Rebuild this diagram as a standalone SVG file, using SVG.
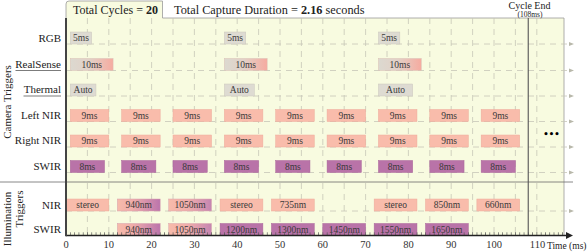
<svg xmlns="http://www.w3.org/2000/svg" width="588" height="252" viewBox="0 0 588 252">
<style>
.lbl{font-family:"Liberation Serif",serif;font-size:11px;fill:#222;text-anchor:end}
.bt{font-family:"Liberation Serif",serif;font-size:9.5px;fill:#3a3a3a;text-anchor:middle}
.ttl{font-family:"Liberation Serif",serif;font-size:12px;fill:#222}
.tick{font-family:"Liberation Serif",serif;font-size:10.5px;fill:#333;text-anchor:middle}
.grid{stroke:#c6c6b8;stroke-width:0.8;stroke-dasharray:6 5;fill:none}
.row{stroke:#c6c6b8;stroke-width:0.8;stroke-dasharray:6 5;fill:none}
.gray{fill:#dedbd2;stroke:#cbc7bd;stroke-width:0.5}
.sal{fill:#f9bcab;stroke:#eeaa9a;stroke-width:0.5}
.pur{fill:#b973a8;stroke:#a9659a;stroke-width:0.5}
.rs{fill:url(#gRS);stroke:#d9c0b5;stroke-width:0.5}
.g940{fill:url(#g940);stroke:#d59fae;stroke-width:0.5}
.g1050{fill:url(#g1050);stroke:#d9a5ae;stroke-width:0.5}
</style>
<defs>
<linearGradient id="gRS" x1="0" y1="0" x2="1" y2="0">
<stop offset="0" stop-color="#dcd9d0"/><stop offset="0.45" stop-color="#e2d1c7"/><stop offset="1" stop-color="#f6aba0"/>
</linearGradient>
<linearGradient id="g940" x1="0" y1="0" x2="1" y2="0">
<stop offset="0" stop-color="#f7bbaa"/><stop offset="0.35" stop-color="#f0adaa"/><stop offset="1" stop-color="#bb74ac"/>
</linearGradient>
<linearGradient id="g1050" x1="0" y1="0" x2="1" y2="0">
<stop offset="0" stop-color="#f7bbaa"/><stop offset="0.45" stop-color="#f0adaa"/><stop offset="1" stop-color="#c585b2"/>
</linearGradient>
<pattern id="ticks" patternUnits="userSpaceOnUse" x="65.65" y="0" width="4.28" height="252">
<rect x="0" y="0" width="0.7" height="252" fill="#555"/>
</pattern>
<marker id="sarr" markerUnits="userSpaceOnUse" markerWidth="6" markerHeight="5" refX="1" refY="2.5" orient="auto">
<path d="M0,0.5 L5,2.5 L0,4.5 z" fill="#b8b8aa"/>
</marker>
<marker id="axarr" markerUnits="userSpaceOnUse" markerWidth="8" markerHeight="7" refX="1" refY="3.5" orient="auto">
<path d="M0,0 L7,3.5 L0,7 z" fill="#222"/>
</marker>
</defs>

<g id="frame">
<rect x="66" y="18" width="498" height="217.5" fill="#f8fbe0"/>
<path d="M66,18 V4 Q66,1 69,1 H162.5 V18" fill="#f8fbe0" stroke="#9a9a9a" stroke-width="0.8"/>
<path d="M162.5,18 H564 V235.5" fill="none" stroke="#9a9a9a" stroke-width="0.8"/>
</g>

<g id="connectors">
<path class="grid" d="M87.4 18V235M108.8 18V235M130.2 18V235M151.6 18V235M173 18V235M194.4 18V235M215.8 18V235M237.2 18V235M258.6 18V235M280 18V235M301.4 18V235M322.8 18V235M344.2 18V235M365.6 18V235M387 18V235M408.4 18V235M429.8 18V235M451.2 18V235M472.6 18V235M494 18V235M515.4 18V235M536.8 18V235"/>
<line class="row" x1="66" y1="44" x2="570" y2="44" marker-end="url(#sarr)"/>
<line class="row" x1="66" y1="70.5" x2="570" y2="70.5" marker-end="url(#sarr)"/>
<line class="row" x1="66" y1="96" x2="570" y2="96" marker-end="url(#sarr)"/>
<line class="row" x1="66" y1="121.5" x2="570" y2="121.5" marker-end="url(#sarr)"/>
<line class="row" x1="66" y1="147" x2="570" y2="147" marker-end="url(#sarr)"/>
<line class="row" x1="66" y1="172.5" x2="570" y2="172.5" marker-end="url(#sarr)"/>
<line class="row" x1="66" y1="211" x2="570" y2="211" marker-end="url(#sarr)"/>
<line x1="0" y1="182" x2="573" y2="182" stroke="#6a6a6a" stroke-width="0.8"/>
<line x1="528.24" y1="18" x2="528.24" y2="235.5" stroke="#555" stroke-width="1.1"/>
</g>

<g id="rgb">
<g id="rgb-1"><rect class="gray" x="70.28" y="32" width="21.4" height="12"/><text class="bt" x="80.98" y="41.1">5ms</text></g>
<g id="rgb-2"><rect class="gray" x="224.36" y="32" width="21.4" height="12"/><text class="bt" x="235.06" y="41.1">5ms</text></g>
<g id="rgb-3"><rect class="gray" x="378.44" y="32" width="21.4" height="12"/><text class="bt" x="389.14" y="41.1">5ms</text></g>
</g>
<g id="realsense">
<g id="rs-1"><rect class="rs" x="70.28" y="58.5" width="42.8" height="12"/><text class="bt" x="91.68" y="67.6">10ms</text></g>
<g id="rs-2"><rect class="rs" x="224.36" y="58.5" width="42.8" height="12"/><text class="bt" x="245.76" y="67.6">10ms</text></g>
<g id="rs-3"><rect class="rs" x="378.44" y="58.5" width="42.8" height="12"/><text class="bt" x="399.84" y="67.6">10ms</text></g>
</g>
<g id="thermal">
<g id="th-1"><rect class="gray" x="70.28" y="84" width="25.68" height="12"/><text class="bt" x="83.12" y="93.1">Auto</text></g>
<g id="th-2"><rect class="gray" x="224.36" y="84" width="29.96" height="12"/><text class="bt" x="239.34" y="93.1">Auto</text></g>
<g id="th-3"><rect class="gray" x="378.44" y="84" width="34.24" height="12"/><text class="bt" x="395.56" y="93.1">Auto</text></g>
</g>
<g id="leftnir">
<g id="ln-1"><rect class="sal" x="70.28" y="109.5" width="38.52" height="12"/><text class="bt" x="89.54" y="118.6">9ms</text></g>
<g id="ln-2"><rect class="sal" x="121.64" y="109.5" width="38.52" height="12"/><text class="bt" x="140.9" y="118.6">9ms</text></g>
<g id="ln-3"><rect class="sal" x="173" y="109.5" width="38.52" height="12"/><text class="bt" x="192.26" y="118.6">9ms</text></g>
<g id="ln-4"><rect class="sal" x="224.36" y="109.5" width="38.52" height="12"/><text class="bt" x="243.62" y="118.6">9ms</text></g>
<g id="ln-5"><rect class="sal" x="275.72" y="109.5" width="38.52" height="12"/><text class="bt" x="294.98" y="118.6">9ms</text></g>
<g id="ln-6"><rect class="sal" x="327.08" y="109.5" width="38.52" height="12"/><text class="bt" x="346.34" y="118.6">9ms</text></g>
<g id="ln-7"><rect class="sal" x="378.44" y="109.5" width="38.52" height="12"/><text class="bt" x="397.7" y="118.6">9ms</text></g>
<g id="ln-8"><rect class="sal" x="429.8" y="109.5" width="38.52" height="12"/><text class="bt" x="449.06" y="118.6">9ms</text></g>
<g id="ln-9"><rect class="sal" x="481.16" y="109.5" width="38.52" height="12"/><text class="bt" x="500.42" y="118.6">9ms</text></g>
</g>
<g id="rightnir">
<g id="rn-1"><rect class="sal" x="70.28" y="135" width="38.52" height="12"/><text class="bt" x="89.54" y="144.1">9ms</text></g>
<g id="rn-2"><rect class="sal" x="121.64" y="135" width="38.52" height="12"/><text class="bt" x="140.9" y="144.1">9ms</text></g>
<g id="rn-3"><rect class="sal" x="173" y="135" width="38.52" height="12"/><text class="bt" x="192.26" y="144.1">9ms</text></g>
<g id="rn-4"><rect class="sal" x="224.36" y="135" width="38.52" height="12"/><text class="bt" x="243.62" y="144.1">9ms</text></g>
<g id="rn-5"><rect class="sal" x="275.72" y="135" width="38.52" height="12"/><text class="bt" x="294.98" y="144.1">9ms</text></g>
<g id="rn-6"><rect class="sal" x="327.08" y="135" width="38.52" height="12"/><text class="bt" x="346.34" y="144.1">9ms</text></g>
<g id="rn-7"><rect class="sal" x="378.44" y="135" width="38.52" height="12"/><text class="bt" x="397.7" y="144.1">9ms</text></g>
<g id="rn-8"><rect class="sal" x="429.8" y="135" width="38.52" height="12"/><text class="bt" x="449.06" y="144.1">9ms</text></g>
<g id="rn-9"><rect class="sal" x="481.16" y="135" width="38.52" height="12"/><text class="bt" x="500.42" y="144.1">9ms</text></g>
</g>
<g id="swir-cam">
<g id="sw-1"><rect class="pur" x="70.28" y="160.5" width="34.24" height="12"/><text class="bt" x="87.4" y="169.6">8ms</text></g>
<g id="sw-2"><rect class="pur" x="121.64" y="160.5" width="34.24" height="12"/><text class="bt" x="138.76" y="169.6">8ms</text></g>
<g id="sw-3"><rect class="pur" x="173" y="160.5" width="34.24" height="12"/><text class="bt" x="190.12" y="169.6">8ms</text></g>
<g id="sw-4"><rect class="pur" x="224.36" y="160.5" width="34.24" height="12"/><text class="bt" x="241.48" y="169.6">8ms</text></g>
<g id="sw-5"><rect class="pur" x="275.72" y="160.5" width="34.24" height="12"/><text class="bt" x="292.84" y="169.6">8ms</text></g>
<g id="sw-6"><rect class="pur" x="327.08" y="160.5" width="34.24" height="12"/><text class="bt" x="344.2" y="169.6">8ms</text></g>
<g id="sw-7"><rect class="pur" x="378.44" y="160.5" width="34.24" height="12"/><text class="bt" x="395.56" y="169.6">8ms</text></g>
<g id="sw-8"><rect class="pur" x="429.8" y="160.5" width="34.24" height="12"/><text class="bt" x="446.92" y="169.6">8ms</text></g>
<g id="sw-9"><rect class="pur" x="481.16" y="160.5" width="34.24" height="12"/><text class="bt" x="498.28" y="169.6">8ms</text></g>
</g>
<g id="nir-illum">
<g id="ni-1"><rect class="sal" x="66.5" y="199" width="42.3" height="12"/><text class="bt" x="87.65" y="208.1">stereo</text></g>
<g id="ni-2"><rect class="g940" x="117.36" y="199" width="42.8" height="12"/><text class="bt" x="138.76" y="208.1">940nm</text></g>
<g id="ni-3"><rect class="g1050" x="168.72" y="199" width="42.8" height="12"/><text class="bt" x="190.12" y="208.1">1050nm</text></g>
<g id="ni-4"><rect class="sal" x="220.08" y="199" width="42.8" height="12"/><text class="bt" x="241.48" y="208.1">stereo</text></g>
<g id="ni-5"><rect class="sal" x="271.44" y="199" width="42.8" height="12"/><text class="bt" x="292.84" y="208.1">735nm</text></g>
<g id="ni-6"><rect class="sal" x="374.16" y="199" width="42.8" height="12"/><text class="bt" x="395.56" y="208.1">stereo</text></g>
<g id="ni-7"><rect class="sal" x="425.52" y="199" width="42.8" height="12"/><text class="bt" x="446.92" y="208.1">850nm</text></g>
<g id="ni-8"><rect class="sal" x="476.88" y="199" width="42.8" height="12"/><text class="bt" x="498.28" y="208.1">660nm</text></g>
</g>
<g id="swir-illum">
<g id="si-1"><rect class="g940" x="117.36" y="223.5" width="42.8" height="12"/><text class="bt" x="138.76" y="232.6">940nm</text></g>
<g id="si-2"><rect class="g1050" x="168.72" y="223.5" width="42.8" height="12"/><text class="bt" x="190.12" y="232.6">1050nm</text></g>
<g id="si-3"><rect class="pur" x="220.08" y="223.5" width="42.8" height="12"/><text class="bt" x="241.48" y="232.6">1200nm</text></g>
<g id="si-4"><rect class="pur" x="271.44" y="223.5" width="42.8" height="12"/><text class="bt" x="292.84" y="232.6">1300nm</text></g>
<g id="si-5"><rect class="pur" x="322.8" y="223.5" width="42.8" height="12"/><text class="bt" x="344.2" y="232.6">1450nm</text></g>
<g id="si-6"><rect class="pur" x="374.16" y="223.5" width="42.8" height="12"/><text class="bt" x="395.56" y="232.6">1550nm</text></g>
<g id="si-7"><rect class="pur" x="425.52" y="223.5" width="42.8" height="12"/><text class="bt" x="446.92" y="232.6">1650nm</text></g>
</g>

<g id="axes">
<rect x="65" y="232.3" width="498" height="3.2" fill="url(#ticks)"/>
<line x1="66" y1="235.5" x2="567" y2="235.5" stroke="#222" stroke-width="1.4" marker-end="url(#axarr)"/>
<line x1="66" y1="18" x2="66" y2="236.2" stroke="#444" stroke-width="2"/>
<text class="tick" x="66" y="247.5">0</text>
<text class="tick" x="108.8" y="247.5">10</text>
<text class="tick" x="151.6" y="247.5">20</text>
<text class="tick" x="194.4" y="247.5">30</text>
<text class="tick" x="237.2" y="247.5">40</text>
<text class="tick" x="280" y="247.5">50</text>
<text class="tick" x="322.8" y="247.5">60</text>
<text class="tick" x="365.6" y="247.5">70</text>
<text class="tick" x="408.4" y="247.5">80</text>
<text class="tick" x="451.2" y="247.5">90</text>
<text class="tick" x="494" y="247.5">100</text>
<text class="tick" x="537.5" y="247.5">110</text>
<text x="547" y="249" style="font-family:'Liberation Serif',serif;font-size:9.5px;fill:#222">Time (ms)</text>
</g>

<g id="labels">
<text class="lbl" x="61" y="42">RGB</text>
<text class="lbl" x="61" y="67.5">RealSense</text>
<line x1="15.5" y1="70.5" x2="61" y2="70.5" stroke="#444" stroke-width="0.7"/>
<text class="lbl" x="61" y="93">Thermal</text>
<line x1="23.5" y1="96" x2="61" y2="96" stroke="#444" stroke-width="0.7"/>
<text class="lbl" x="61" y="118.5">Left NIR</text>
<text class="lbl" x="61" y="144">Right NIR</text>
<text class="lbl" x="61" y="169.5">SWIR</text>
<text class="lbl" x="61" y="208.5">NIR</text>
<text class="lbl" x="61" y="232.5">SWIR</text>
<text class="lbl" style="text-anchor:middle" transform="translate(10.5,102) rotate(-90)">Camera Triggers</text>
<text class="lbl" style="text-anchor:middle" transform="translate(10.5,219) rotate(-90)">Illumination</text>
<text class="lbl" style="text-anchor:middle" transform="translate(22.5,209) rotate(-90)">Triggers</text>
</g>

<g id="title">
<text class="ttl" x="73" y="13.5">Total Cycles = <tspan font-weight="bold">20</tspan></text>
<text class="ttl" x="174" y="13.5" style="font-size:12.3px">Total Capture Duration = <tspan font-weight="bold">2.16</tspan> seconds</text>
</g>

<g id="cycle-end">
<text x="529.5" y="8.5" style="font-family:'Liberation Serif',serif;font-size:10px;fill:#222;text-anchor:middle">Cycle End</text>
<text x="530" y="16.5" style="font-family:'Liberation Serif',serif;font-size:7.5px;fill:#222;text-anchor:middle">(108ms)</text>
</g>

<g id="ellipsis">
<text x="551.5" y="137" style="font-family:'DejaVu Sans',sans-serif;font-size:8.5px;font-weight:bold;fill:#000;text-anchor:middle">•••</text>
</g>
</svg>
